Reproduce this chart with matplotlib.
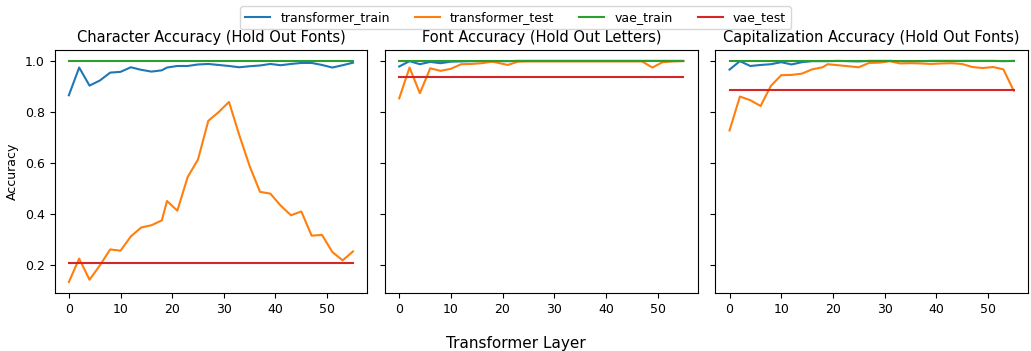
import matplotlib
matplotlib.use("Agg")
import matplotlib.pyplot as plt
import numpy as np

# layer indices sampled
LAYERS = [0, 2, 4, 6, 8, 10, 12, 14, 16, 18, 19, 21, 23, 25, 27, 29, 31,
          33, 35, 37, 39, 41, 43, 45, 47, 49, 51, 53, 55]

TITLES = ["Character Accuracy (Hold Out Fonts)",
          "Font Accuracy (Hold Out Letters)",
          "Capitalization Accuracy (Hold Out Fonts)"]

char_train = [0.865, 0.974, 0.903, 0.923, 0.954, 0.957, 0.975, 0.965, 0.958, 0.963,
              0.974, 0.980, 0.980, 0.986, 0.988, 0.984, 0.980, 0.975, 0.979, 0.982,
              0.988, 0.983, 0.988, 0.992, 0.992, 0.984, 0.974, 0.983, 0.993]
char_test = [0.132, 0.224, 0.141, 0.197, 0.260, 0.255, 0.311, 0.346, 0.355, 0.374,
             0.450, 0.412, 0.544, 0.613, 0.765, 0.799, 0.839, 0.708, 0.587, 0.486,
             0.479, 0.432, 0.394, 0.409, 0.314, 0.317, 0.250, 0.217, 0.252]
char_vae_train = 1.0
char_vae_test = 0.207

font_train = [0.978, 0.999, 0.987, 0.996, 0.991, 0.997, 0.998, 0.999, 0.999, 0.999,
              0.999, 0.999, 1.0, 1.0, 1.0, 1.0, 1.0, 1.0, 1.0, 1.0,
              1.0, 1.0, 1.0, 1.0, 1.0, 1.0, 1.0, 1.0, 1.0]
font_test = [0.853, 0.974, 0.873, 0.971, 0.961, 0.969, 0.987, 0.988, 0.991, 0.997,
             0.993, 0.984, 0.997, 0.998, 0.998, 0.998, 0.998, 0.998, 0.998, 0.998,
             0.998, 0.998, 0.998, 0.998, 0.998, 0.974, 0.995, 0.998, 0.999]
font_vae_train = 1.0
font_vae_test = 0.937

cap_train = [0.966, 0.999, 0.980, 0.984, 0.987, 0.995, 0.986, 0.995, 0.999, 0.999,
             0.999, 1.0, 0.999, 0.998, 1.0, 1.0, 1.0, 0.999, 0.998, 0.999,
             1.0, 1.0, 1.0, 1.0, 1.0, 1.0, 1.0, 0.999, 1.0]
cap_test = [0.727, 0.860, 0.846, 0.823, 0.902, 0.944, 0.945, 0.950, 0.967, 0.975,
            0.987, 0.983, 0.979, 0.975, 0.992, 0.993, 0.999, 0.990, 0.991, 0.990,
            0.988, 0.990, 0.991, 0.988, 0.976, 0.972, 0.976, 0.967, 0.883]
cap_vae_train = 1.0
cap_vae_test = 0.885

PANELS = [(char_train, char_test, char_vae_train, char_vae_test),
          (font_train, font_test, font_vae_train, font_vae_test),
          (cap_train, cap_test, cap_vae_train, cap_vae_test)]

fig, axes = plt.subplots(1, 3, figsize=(10.31, 3.51), dpi=100, sharey=True)
x = np.array(LAYERS)
for ax, title, (tr, te, vtr, vte) in zip(axes, TITLES, PANELS):
    ax.plot(x, tr, label="transformer_train")
    ax.plot(x, te, label="transformer_test")
    ax.plot(x, np.full(len(x), vtr), label="vae_train")
    ax.plot(x, np.full(len(x), vte), label="vae_test")
    ax.set_title(title, fontsize=10.5)
    ax.tick_params(labelsize=9)
axes[0].set_ylabel("Accuracy", fontsize=9)
axes[0].set_yticks([0.2, 0.4, 0.6, 0.8, 1.0])

handles, labels = axes[0].get_legend_handles_labels()
fig.legend(handles, labels, loc="upper center", ncol=4, fontsize=9,
           bbox_to_anchor=(0.5, 1.0), frameon=True)
fig.supxlabel("Transformer Layer", fontsize=11, y=0.0)
fig.subplots_adjust(left=0.053, right=0.997, top=0.858, bottom=0.165, wspace=0.057)
fig.savefig("out.png", dpi=100)
